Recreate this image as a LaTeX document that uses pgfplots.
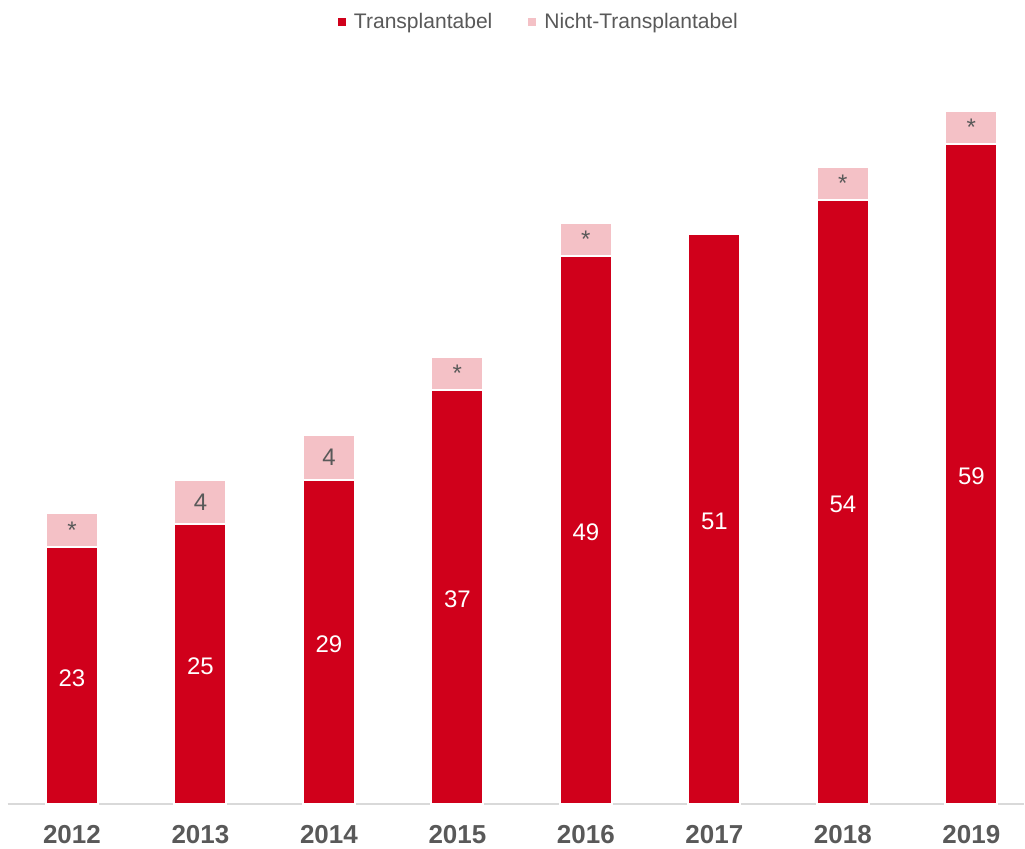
\documentclass[border=0pt]{standalone}
\usepackage{pgfplots}
\pgfplotsset{compat=1.18}
\usepackage{fontspec}
\setmainfont{Liberation Sans}
\definecolor{tred}{RGB}{208,0,27}
\definecolor{tpink}{RGB}{244,193,198}
\definecolor{tgray}{RGB}{89,89,89}
\definecolor{tline}{RGB}{217,217,217}
\begin{document}
\begin{tikzpicture}
\begin{axis}[
  scale only axis,
  width=762.9pt, height=520pt,
  xmin=-0.5, xmax=7.41,
  ymin=0, ymax=62,
  axis x line*=bottom,
  axis y line=none,
  x axis line style={draw=tline, line width=1.5pt, -},
  xtick={0,...,7},
  xticklabels={2012,2013,2014,2015,2016,2017,2018,2019},
  xtick style={draw=none},
  xticklabel style={font=\fontsize{19.5}{22}\selectfont\bfseries, text=tgray, yshift=-13pt},
  clip=false,
  legend columns=2,
  legend style={at={(0.523,1.128)}, anchor=center, draw=none, fill=none,
    font=\fontsize{15.8}{18}\selectfont, text=tgray,
    /tikz/every even column/.append style={column sep=25pt}},
  legend image code/.code={\fill[#1] (0pt,-2.9pt) rectangle (5.8pt,2.9pt); \path (10pt,0pt);},
]
% totals (pink) drawn first
\addplot[ybar, bar width=39pt, bar shift=0pt, fill=tpink, draw=white, line width=1.5pt, forget plot]
  coordinates {(0,26) (1,29) (2,33) (3,40) (4,52) (5,51) (6,57) (7,62)};
% red bars
\addplot[ybar, bar width=39pt, bar shift=0pt, fill=tred, draw=white, line width=1.5pt, forget plot]
  coordinates {(0,23) (1,25) (2,29) (3,37) (4,49) (5,51) (6,54) (7,59)};
% legend entries
\addlegendimage{fill=tred, draw=none}
\addlegendentry{Transplantabel}
\addlegendimage{fill=tpink, draw=none}
\addlegendentry{Nicht-Transplantabel}
% labels in red segments
\addplot[only marks, mark=none, point meta=explicit symbolic, nodes near coords,
  nodes near coords style={anchor=center, text=white, font=\fontsize{18}{21}\selectfont, yshift=-2pt}, forget plot]
  table[meta=label] {
x y label
0 11.5 23
1 12.5 25
2 14.5 29
3 18.5 37
4 24.5 49
5 25.5 51
6 27 54
7 29.5 59
};
% labels in pink segments
\addplot[only marks, mark=none, point meta=explicit symbolic, nodes near coords,
  nodes near coords style={anchor=center, text=tgray, font=\fontsize{18}{21}\selectfont}, forget plot]
  table[meta=label] {
x y label
0 24.5 *
1 27 4
2 31 4
3 38.5 *
4 50.5 *
6 55.5 *
7 60.5 *
};
\path (axis cs:-0.56,-4.04) rectangle (axis cs:7.41,71.93);
\end{axis}
\end{tikzpicture}
\end{document}
